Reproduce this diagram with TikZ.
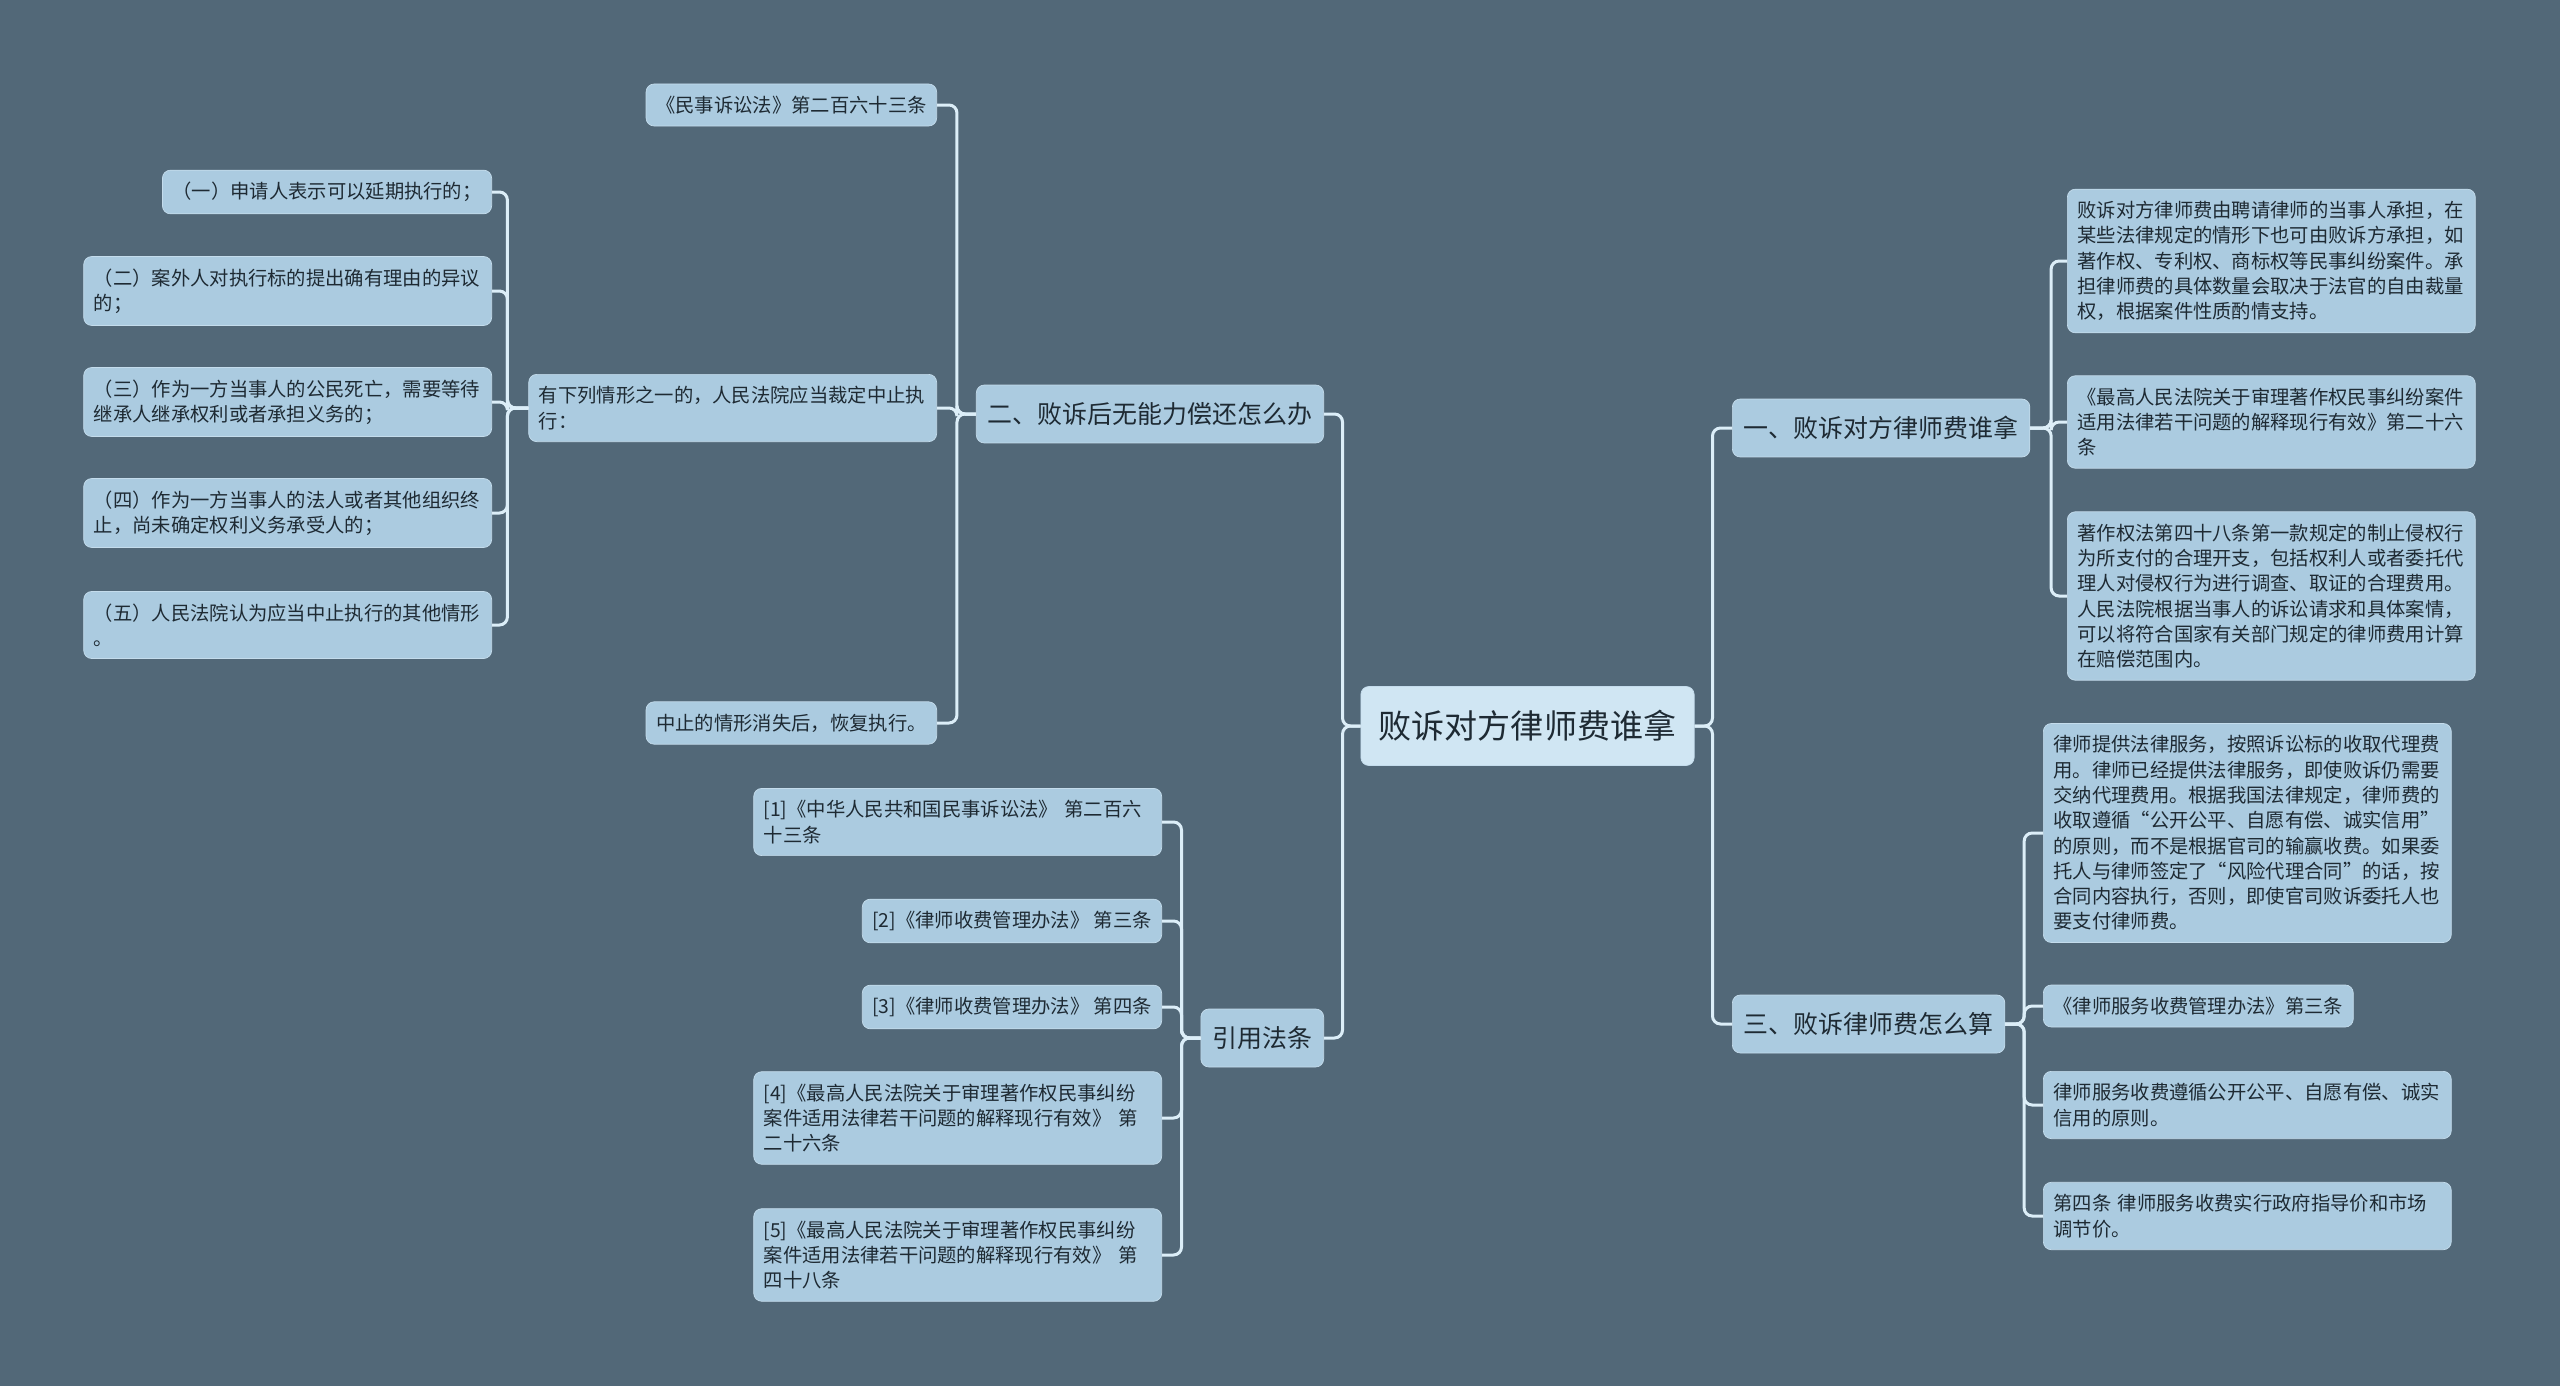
\documentclass[tikz,border=0pt]{standalone}
\usepackage{fontspec}
\setmainfont{Noto Sans CJK SC}
\usepackage{xcolor}
\usetikzlibrary{positioning}
\definecolor{bg}{HTML}{526878}
\definecolor{leaffill}{HTML}{ABCBE0}
\definecolor{rootfill}{HTML}{D0E6F3}
\definecolor{edge}{HTML}{C4DCEC}
\definecolor{wire}{HTML}{DCEEF8}
\definecolor{ink}{HTML}{1E2A33}

\tikzset{
  leaf/.style={rectangle,rounded corners=0.16cm,fill=leaffill,draw=edge,line width=0.4pt,
    inner xsep=0.2cm,inner ysep=0.24cm,align=left,text=ink,
    font=\fontsize{11pt}{14.4pt}\selectfont},
  para/.style={leaf,text width=7.76cm},
  branch/.style={leaf,inner xsep=0.23cm,inner ysep=0pt,minimum height=1.16cm,
    font=\fontsize{14.2pt}{17pt}\selectfont},
  root/.style={leaf,fill=rootfill,inner xsep=0.36cm,inner ysep=0pt,minimum height=1.58cm,
    font=\fontsize{18.8pt}{22pt}\selectfont},
  wireline/.style={draw=wire,line width=0.06cm,rounded corners=0.16cm}
}

\begin{document}
\begin{tikzpicture}[x=0.02cm,y=-0.02cm]
  % canvas
  \fill[bg] (0,0) rectangle (2560,1386);
  \useasboundingbox (0,0) rectangle (2560,1386);

  % centre
  \node[root] (root) at (1527.5,726) {败诉对方律师费谁拿};

  % main branches
  \node[branch,anchor=west] (b1) at (1732,428) {一、败诉对方律师费谁拿};
  \node[branch,anchor=east] (b2) at (1324,414) {二、败诉后无能力偿还怎么办};
  \node[branch,anchor=west] (b3) at (1732,1024) {三、败诉律师费怎么算};
  \node[branch,anchor=east] (b4) at (1324,1038) {引用法条};

  % branch one
  \node[para,anchor=west] (t1) at (2067,261) {败诉对方律师费由聘请律师的当事人承担，在\\某些法律规定的情形下也可由败诉方承担，如\\著作权、专利权、商标权等民事纠纷案件。承\\担律师费的具体数量会取决于法官的自由裁量\\权，根据案件性质酌情支持。};
  \node[para,anchor=west] (t2) at (2067,422) {《最高人民法院关于审理著作权民事纠纷案件\\适用法律若干问题的解释现行有效》第二十六\\条};
  \node[para,anchor=west] (t3) at (2067,596) {著作权法第四十八条第一款规定的制止侵权行\\为所支付的合理开支，包括权利人或者委托代\\理人对侵权行为进行调查、取证的合理费用。\\人民法院根据当事人的诉讼请求和具体案情，\\可以将符合国家有关部门规定的律师费用计算\\在赔偿范围内。};

  % branch two
  \node[leaf,anchor=east] (s1) at (937,105) {《民事诉讼法》第二百六十三条};
  \node[para,anchor=east] (s2) at (937,408) {有下列情形之一的，人民法院应当裁定中止执\\行：};
  \node[leaf,anchor=east] (s3) at (937,723) {中止的情形消失后，恢复执行。};
  \node[leaf,anchor=east] (c1) at (492,192) {（一）申请人表示可以延期执行的；};
  \node[para,anchor=east] (c2) at (492,291) {（二）案外人对执行标的提出确有理由的异议\\的；};
  \node[para,anchor=east] (c3) at (492,402) {（三）作为一方当事人的公民死亡，需要等待\\继承人继承权利或者承担义务的；};
  \node[para,anchor=east] (c4) at (492,513) {（四）作为一方当事人的法人或者其他组织终\\止，尚未确定权利义务承受人的；};
  \node[para,anchor=east] (c5) at (492,625) {（五）人民法院认为应当中止执行的其他情形\\。};

  % branch three
  \node[para,anchor=west] (u1) at (2043,833) {律师提供法律服务，按照诉讼标的收取代理费\\用。律师已经提供法律服务，即使败诉仍需要\\交纳代理费用。根据我国法律规定，律师费的\\收取遵循“公开公平、自愿有偿、诚实信用”\\的原则，而不是根据官司的输赢收费。如果委\\托人与律师签定了“风险代理合同”的话，按\\合同内容执行，否则，即使官司败诉委托人也\\要支付律师费。};
  \node[leaf,anchor=west] (u2) at (2043,1006) {《律师服务收费管理办法》第三条};
  \node[para,anchor=west] (u3) at (2043,1105) {律师服务收费遵循公开公平、自愿有偿、诚实\\信用的原则。};
  \node[para,anchor=west] (u4) at (2043,1216) {第四条 律师服务收费实行政府指导价和市场\\调节价。};

  % cited articles
  \node[para,anchor=east] (r1) at (1162,822) {[1]《中华人民共和国民事诉讼法》 第二百六\\十三条};
  \node[leaf,anchor=east] (r2) at (1162,921) {[2]《律师收费管理办法》 第三条};
  \node[leaf,anchor=east] (r3) at (1162,1007) {[3]《律师收费管理办法》 第四条};
  \node[para,anchor=east] (r4) at (1162,1118) {[4]《最高人民法院关于审理著作权民事纠纷\\案件适用法律若干问题的解释现行有效》 第\\二十六条};
  \node[para,anchor=east] (r5) at (1162,1255) {[5]《最高人民法院关于审理著作权民事纠纷\\案件适用法律若干问题的解释现行有效》 第\\四十八条};

  % connectors
  \foreach \b in {b1,b3}
    \draw[wireline] (root.east) -- ++(18,0) |- (\b.west);
  \foreach \b in {b2,b4}
    \draw[wireline] (root.west) -- ++(-18,0) |- (\b.east);
  \foreach \t in {t1,t2,t3}
    \draw[wireline] (b1.east) -- ++(21,0) |- (\t.west);
  \foreach \t in {s1,s2,s3}
    \draw[wireline] (b2.west) -- ++(-19,0) |- (\t.east);
  \foreach \t in {c1,c2,c3,c4,c5}
    \draw[wireline] (s2.west) -- ++(-21,0) |- (\t.east);
  \foreach \t in {u1,u2,u3,u4}
    \draw[wireline] (b3.east) -- ++(19,0) |- (\t.west);
  \foreach \t in {r1,r2,r3,r4,r5}
    \draw[wireline] (b4.west) -- ++(-19,0) |- (\t.east);
\end{tikzpicture}
\end{document}
